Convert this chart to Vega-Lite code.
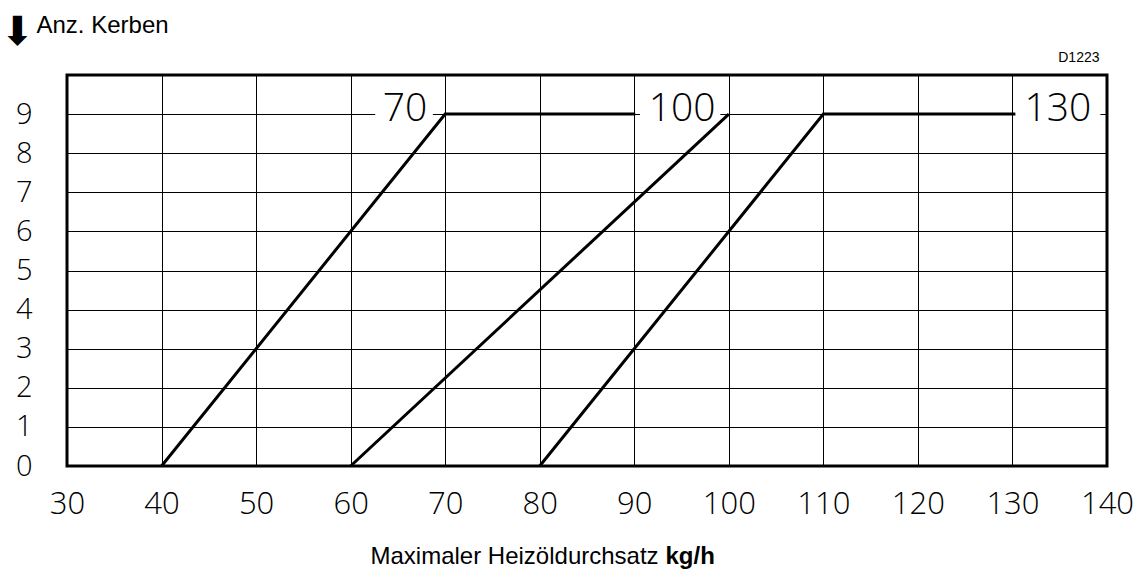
{
  "$schema": "https://vega.github.io/schema/vega-lite/v6.json",
  "width": 1040,
  "height": 391,
  "autosize": "none",
  "padding": {"left": 67, "top": 75, "right": 40, "bottom": 115},
  "background": "white",
  "config": {
    "view": {"stroke": "black", "strokeWidth": 3},
    "axis": {"labelColor": "black", "titleColor": "black", "titleFontWeight": "normal", "titleFont": "Liberation Sans"}
  },
  "datasets": {
    "lines": [
      {"s": "a", "x": 40, "y": 0}, {"s": "a", "x": 70, "y": 9}, {"s": "a", "x": 90.1, "y": 9},
      {"s": "b", "x": 60, "y": 0}, {"s": "b", "x": 100, "y": 9},
      {"s": "c", "x": 80, "y": 0}, {"s": "c", "x": 110, "y": 9}, {"s": "c", "x": 130.3, "y": 9}
    ],
    "labels": [
      {"label": "70", "x": 65.75, "x1": 62.6, "x2": 68.7, "y": 9},
      {"label": "100", "x": 95.05, "x1": 90.6, "x2": 99.1, "y": 9},
      {"label": "130", "x": 134.8, "x1": 130.3, "x2": 139.3, "y": 9}
    ]
  },
  "resolve": {"axis": {"x": "independent", "y": "independent"}},
  "layer": [
    {
      "data": {"name": "labels"},
      "mark": {"type": "rule", "color": "white", "strokeWidth": 4},
      "encoding": {
        "x": {"field": "x1", "type": "quantitative", "scale": {"domain": [30, 140], "nice": false, "zero": false},
          "axis": {"orient": "bottom", "title": "kg/h", "titleFontWeight": "bold", "titleFontSize": 24, "titleAlign": "left", "titleBaseline": "alphabetic", "titleX": 598, "titleY": 97, "labels": false, "ticks": false, "domain": false, "grid": false}},
        "x2": {"field": "x2"},
        "y": {"field": "y", "type": "quantitative", "scale": {"domain": [0, 10], "nice": false, "zero": false},
          "axis": {"orient": "left", "title": "⬇", "titleFont": "DejaVu Sans", "titleFontSize": 40, "titleAngle": 0, "titleAlign": "center", "titleBaseline": "middle", "titleX": -50, "titleY": -43, "labels": false, "ticks": false, "domain": false, "grid": false}}
      }
    },
    {
      "data": {"name": "lines"},
      "mark": {"type": "line", "color": "black", "strokeWidth": 3},
      "encoding": {
        "x": {"field": "x", "type": "quantitative",
          "axis": {"orient": "bottom", "values": [30, 40, 50, 60, 70, 80, 90, 100, 110, 120, 130, 140], "grid": true, "gridColor": "black", "gridWidth": 1, "gridOpacity": 1, "ticks": false, "domain": false,
            "labelFont": "Open Sans", "labelFontWeight": 300, "labelFontSize": 31, "labelPadding": 23, "labelFlush": false, "labelOverlap": false,
            "title": "Maximaler Heizöldurchsatz", "titleFontSize": 24, "titleAlign": "left", "titleBaseline": "alphabetic", "titleX": 303, "titleY": 97}},
        "y": {"field": "y", "type": "quantitative",
          "axis": {"orient": "left", "values": [0, 1, 2, 3, 4, 5, 6, 7, 8, 9, 10], "labelExpr": "datum.value == 10 ? '' : datum.label", "grid": true, "gridColor": "black", "gridWidth": 1, "gridOpacity": 1, "ticks": false, "domain": false,
            "labelFont": "Open Sans", "labelFontWeight": 300, "labelFontSize": 29, "labelPadding": 35, "labelFlush": false, "labelOverlap": false, "labelBaseline": "middle",
            "title": "Anz. Kerben", "titleFontSize": 24, "titleAngle": 0, "titleAlign": "left", "titleBaseline": "alphabetic", "titleX": -31, "titleY": -43}},
        "detail": {"field": "s"}
      }
    },
    {
      "data": {"name": "labels"},
      "mark": {"type": "text", "font": "Open Sans", "fontWeight": 300, "fontSize": 39, "baseline": "middle", "align": "center", "dy": -5, "color": "black"},
      "encoding": {
        "x": {"field": "x", "type": "quantitative",
          "axis": {"orient": "top", "title": "D1223", "titleFontSize": 14, "titleAlign": "right", "titleBaseline": "alphabetic", "titleX": 1032, "titleY": -14, "labels": false, "ticks": false, "domain": false, "grid": false}},
        "y": {"field": "y", "type": "quantitative", "axis": null},
        "text": {"field": "label"}
      }
    }
  ]
}
